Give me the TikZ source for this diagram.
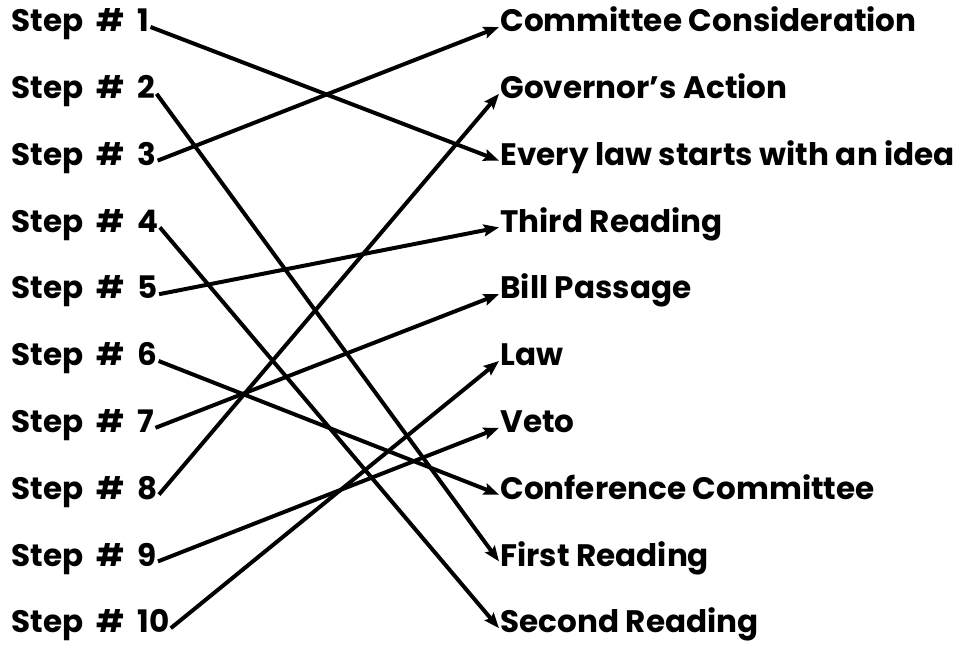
\documentclass[tikz,border=0pt]{standalone}
\usepackage{fontspec}
\setmainfont{Poppins}
\usetikzlibrary{arrows.meta}

\begin{document}
\begin{tikzpicture}[x=0.03cm, y=-0.03cm,
  steplabel/.style={anchor=west, inner sep=1pt, text height=1.45ex, text depth=0pt,
    font=\fontsize{26.5}{30}\selectfont\bfseries},
  stagelabel/.style={steplabel},
  link/.style={black, line width=3.4pt, -{Stealth[length=13pt, width=10pt, inset=2pt]}}]
\useasboundingbox (0,0) rectangle (970,646);
\foreach \i in {1,...,10}
  \node[steplabel] (s\i) at (10, {27+66.8*(\i-1)}) {Step\hspace{0.42em}\#\hspace{0.42em}\i};
\foreach \i/\name in {1/Committee Consideration, 2/Governor's Action,
    3/Every law starts with an idea, 4/Third Reading, 5/Bill Passage, 6/Law,
    7/Veto, 8/Conference Committee, 9/First Reading, 10/Second Reading}
  \node[stagelabel] (r\i) at (499, {27+66.8*(\i-1)}) {\name};
\draw[link] (s1.east) -- (r3.west);
\draw[link] (s2.east) -- (r9.west);
\draw[link] (s3.east) -- (r1.west);
\draw[link] (s4.east) -- (r10.west);
\draw[link] (s5.east) -- (r4.west);
\draw[link] (s6.east) -- (r8.west);
\draw[link] (s7.east) -- (r5.west);
\draw[link] (s8.east) -- (r2.west);
\draw[link] (s9.east) -- (r7.west);
\draw[link] (s10.east) -- (r6.west);
\end{tikzpicture}
\end{document}
